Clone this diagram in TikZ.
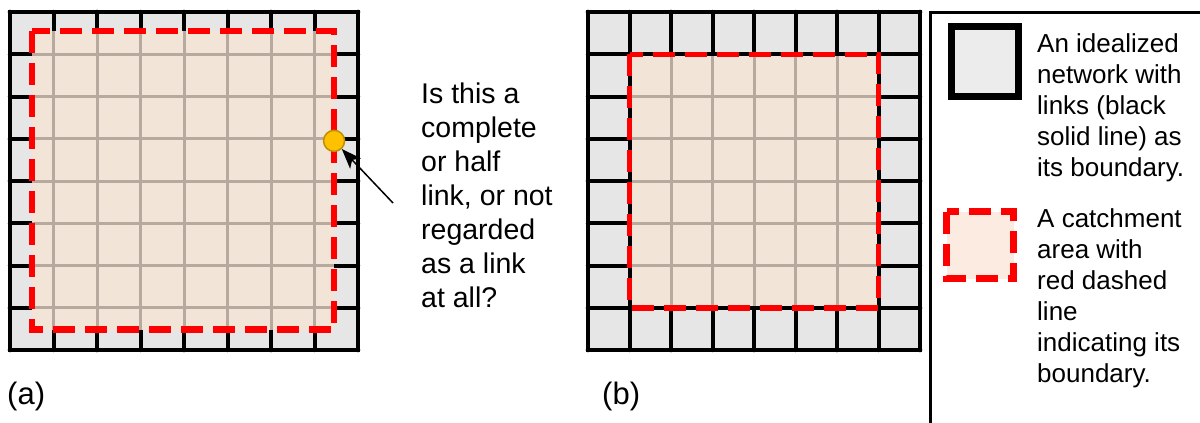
\documentclass[tikz,border=0pt]{standalone}
\usepackage{fontspec}
\setmainfont{Liberation Sans}
\usetikzlibrary{arrows.meta}
\definecolor{netgray}{RGB}{230,230,230}
\definecolor{catchfill}{RGB}{243,228,216}
\definecolor{linkbrown}{RGB}{183,169,158}
\definecolor{dotyellow}{RGB}{255,192,0}
\definecolor{dotedge}{RGB}{191,144,0}
\definecolor{legendgray}{RGB}{236,236,236}
\definecolor{legendpeach}{RGB}{251,235,225}
\tikzset{
  link/.style={draw=black, line width=4pt},
  innerlink/.style={draw=linkbrown, line width=3pt},
  farlink/.style={draw=black!15, line width=1.5pt},
  catchline/.style={draw=red, line width=6.5pt, dash pattern=on 22pt off 10pt},
  note/.style={anchor=north west, align=left, inner sep=0pt},
}
\begin{document}
\begin{tikzpicture}[x=1pt, y=-1pt]
\useasboundingbox (0,0) rectangle (1200,423);

% (a) catchment half a cell inside the network
\begin{scope}[shift={(10,12)}, x=43.5pt, y=-42.25pt]
  \foreach \i in {0,...,8} {
    \draw[farlink] (\i,-0.08) -- (\i,8.08);
    \draw[farlink] (-0.08,\i) -- (8.08,\i);
  }
  \fill[netgray] (0,0) rectangle (8,8);
  \fill[catchfill] (0.5,0.45) rectangle (7.45,7.52);
  \foreach \i in {1,...,7} {
    \draw[innerlink] (\i,0.45) -- (\i,7.52);
    \draw[innerlink] (0.5,\i) -- (7.45,\i);
    \draw[link] (\i,0) -- (\i,0.45) (\i,7.52) -- (\i,8);
    \draw[link] (0,\i) -- (0.5,\i) (7.45,\i) -- (8,\i);
  }
  \draw[link] (0,0) rectangle (8,8);
  \draw[catchline] (0.5,0.45) rectangle (7.45,7.52);
  \node[circle, draw=dotedge, fill=dotyellow, line width=1.5pt,
        minimum size=21pt, inner sep=0pt] (edgedot) at (7.45,3.05) {};
\end{scope}

\coordinate (asktail) at (393,203);
\draw[line width=1.5pt, -{Stealth[length=20pt, width=15pt, inset=5pt]}] (asktail) -- (edgedot);
\node[note, font=\fontsize{28.5}{34}\selectfont] (ask) at (421,83)
  {Is this a\\complete\\or half\\link, or not\\regarded\\as a link\\at all?};
\node[anchor=base west, inner sep=0pt, font=\fontsize{31}{36}\selectfont] (labela) at (7,404) {(a)};

% (b) catchment on the links of the first ring
\begin{scope}[shift={(588,12)}, x=41.5pt, y=-42.25pt]
  \foreach \i in {0,...,8} {
    \draw[farlink] (\i,-0.08) -- (\i,8.08);
    \draw[farlink] (-0.08,\i) -- (8.08,\i);
  }
  \fill[netgray] (0,0) rectangle (8,8);
  \fill[catchfill] (1,1) rectangle (7,7);
  \foreach \i in {2,...,6} {
    \draw[innerlink] (\i,1) -- (\i,7);
    \draw[innerlink] (1,\i) -- (7,\i);
  }
  \foreach \i in {1,...,7} {
    \draw[link] (\i,0) -- (\i,1) (\i,7) -- (\i,8);
    \draw[link] (0,\i) -- (1,\i) (7,\i) -- (8,\i);
  }
  \draw[link] (0,0) rectangle (8,8) (1,1) rectangle (7,7);
  \draw[catchline, line width=5.5pt] (1,1) rectangle (7,7);
\end{scope}
\node[anchor=base west, inner sep=0pt, font=\fontsize{31}{36}\selectfont] (labelb) at (602,404) {(b)};

% legend
\draw[line width=3pt] (930,423) -- (930,12) -- (1200,12);
\draw[line width=7pt, fill=legendgray] (951.5,26.5) rectangle (1018.5,96.5);
\node[note, font=\fontsize{26}{31}\selectfont] (netnote) at (1037,33.5)
  {An idealized\\network with\\links (black\\solid line) as\\its boundary.};
\draw[catchline, line width=7pt, fill=legendpeach] (946.5,211.5) rectangle (1013.5,278.5);
\node[note, font=\fontsize{26}{31}\selectfont] (catchnote) at (1037,208.5)
  {A catchment\\area with\\red dashed\\line\\indicating its\\boundary.};
\end{tikzpicture}
\end{document}
